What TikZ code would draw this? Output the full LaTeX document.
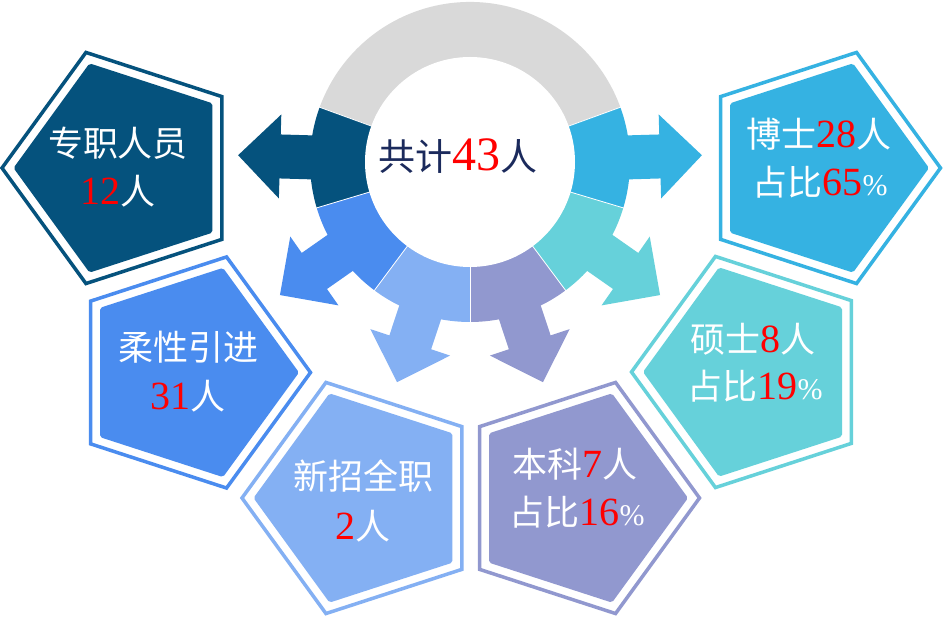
\documentclass[tikz,border=0pt]{standalone}
\usepackage{fontspec}
\newfontfamily\cjk{Noto Sans CJK SC}
\newfontfamily\numf{Liberation Serif}
\definecolor{grayc}{RGB}{217,217,217}
\definecolor{navyc}{RGB}{5,82,125}
\definecolor{skyc}{RGB}{53,178,226}
\definecolor{bluec}{RGB}{74,140,239}
\definecolor{lbluec}{RGB}{132,176,243}
\definecolor{lavc}{RGB}{145,152,207}
\definecolor{tealc}{RGB}{102,209,218}
\definecolor{ctext}{RGB}{27,42,92}
\newcommand{\redn}[1]{{\numf\fontsize{40}{44}\selectfont\color{red}#1}}
\newcommand{\pct}{{\numf\fontsize{30}{34}\selectfont\%}}
\newcommand{\pent}[4]{%
  \begin{scope}[shift={(#1,#2)},rotate=#3]
    \draw[#4, pentout] (0:121.5) -- (72:121.5) -- (144:121.5) -- (216:121.5) -- (288:121.5) -- cycle;
    \fill[#4, pentin] (0:110) -- (72:110) -- (144:110) -- (216:110) -- (288:110) -- cycle;
  \end{scope}}
\tikzset{
  pentout/.style={line width=3.5pt, line join=miter},
  pentin/.style={rounded corners=2pt},
  lbl/.style={anchor=base, inner sep=0pt, text=white, font=\cjk\fontsize{35}{40}\selectfont},
  arrowshape/.style={},
  sep/.style={white, line width=0.8pt}
}
\begin{document}
\begin{tikzpicture}[x=1pt,y=1pt]
\useasboundingbox (0,0) rectangle (943,617);
\fill[white] (0,0) rectangle (943,617);
% ring
\begin{scope}[shift={(470,455)}]
  \fill[grayc] (0,0) -- (20:160) arc[start angle=20,end angle=160,radius=160] -- cycle;
  \fill[navyc] (0,0) -- (160:160) arc[start angle=160,end angle=196.67,radius=160] -- cycle;
  \fill[bluec] (0,0) -- (196.67:160) arc[start angle=196.67,end angle=233.33,radius=160] -- cycle;
  \fill[lbluec] (0,0) -- (233.33:160) arc[start angle=233.33,end angle=270,radius=160] -- cycle;
  \fill[lavc] (0,0) -- (270:160) arc[start angle=270,end angle=306.67,radius=160] -- cycle;
  \fill[tealc] (0,0) -- (306.67:160) arc[start angle=306.67,end angle=343.33,radius=160] -- cycle;
  \fill[skyc] (0,0) -- (343.33:160) arc[start angle=343.33,end angle=380,radius=160] -- cycle;
  \foreach \c/\r in {navyc/178.33, bluec/215, lbluec/251.67, lavc/288.33, tealc/325, skyc/1.67}{
    \fill[\c, rotate=\r] (150,-22) -- (190,-22) -- (190,-42) -- (232,0) -- (190,42) -- (190,22) -- (150,22) -- cycle;
  }
  \foreach \a in {20,160,196.67,233.33,270,306.67,343.33}{
    \draw[sep] (\a:100) -- (\a:161);
  }
  \fill[white] (0,0) circle[radius=105];
\end{scope}
\node[anchor=base, inner sep=0pt, text=ctext, font=\cjk\fontsize{37}{40}\selectfont] (total) at (458,446) {共计{\numf\fontsize{48}{50}\selectfont\color{red}43}人};
% pentagons
\pent{123.5}{449}{180}{navyc}
\pent{819}{449}{0}{skyc}
\pent{189}{244.5}{0}{bluec}
\pent{753}{245}{180}{tealc}
\pent{363.5}{119}{180}{lbluec}
\pent{578}{119}{0}{lavc}
% labels
\node[lbl] (zz1) at (118,460) {专职人员};
\node[lbl] (zz2) at (118,412) {\redn{12}人};
\node[lbl] (bs1) at (819,469) {博士\redn{28}人};
\node[lbl] (bs2) at (820,421) {占比\redn{65}\pct};
\node[lbl] (rx1) at (188,256) {柔性引进};
\node[lbl] (rx2) at (188,207) {\redn{31}人};
\node[lbl] (ss1) at (753,264) {硕士\redn{8}人};
\node[lbl] (ss2) at (755,217) {占比\redn{19}\pct};
\node[lbl] (xz1) at (363,127) {新招全职};
\node[lbl] (xz2) at (363,77) {\redn{2}人};
\node[lbl] (bk1) at (575,139) {本科\redn{7}人};
\node[lbl] (bk2) at (577,91) {占比\redn{16}\pct};
\end{tikzpicture}
\end{document}
